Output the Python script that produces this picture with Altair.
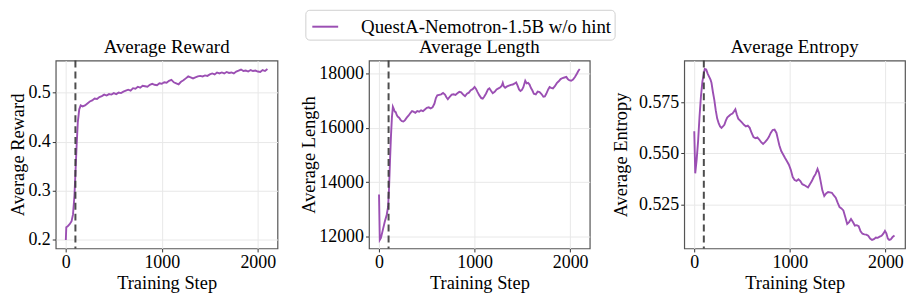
import altair as alt
import pandas as pd

SERIES = "QuestA-Nemotron-1.5B w/o hint"
COLOR = "#9b4fb3"

reward_steps = [0, 5, 20, 40, 60, 75, 90, 100, 112, 125, 140, 155, 175, 200, 225, 250, 275, 300, 325, 350,
                375, 400, 425, 450, 475, 500, 525, 550, 575, 600, 625, 650, 675, 700, 725, 750, 775, 800, 825, 850,
                875, 900, 925, 950, 975, 1000, 1025, 1050, 1075, 1100, 1125, 1150, 1175, 1200, 1225, 1250, 1275,
                1300, 1325, 1350, 1375, 1400, 1425, 1450, 1475, 1500, 1525, 1550, 1575, 1600, 1625, 1650, 1675,
                1700, 1725, 1750, 1775, 1800, 1825, 1850, 1875, 1900, 1925, 1950, 1975, 2000, 2025, 2050, 2075, 2100]
reward_vals = [0.200, 0.226, 0.228, 0.232, 0.238, 0.252, 0.290, 0.335, 0.390, 0.440, 0.466, 0.474, 0.472, 0.474,
               0.478, 0.482, 0.484, 0.488, 0.487, 0.491, 0.493, 0.496, 0.494, 0.497, 0.496, 0.499, 0.497, 0.500,
               0.499, 0.502, 0.504, 0.506, 0.504, 0.509, 0.508, 0.512, 0.510, 0.514, 0.513, 0.512, 0.516, 0.518,
               0.516, 0.515, 0.519, 0.518, 0.521, 0.520, 0.524, 0.526, 0.521, 0.519, 0.517, 0.522, 0.525, 0.529,
               0.533, 0.531, 0.529, 0.531, 0.533, 0.534, 0.533, 0.535, 0.534, 0.537, 0.539, 0.537, 0.541, 0.539,
               0.541, 0.539, 0.542, 0.540, 0.541, 0.539, 0.543, 0.545, 0.547, 0.544, 0.545, 0.543, 0.546, 0.544,
               0.545, 0.543, 0.542, 0.546, 0.544, 0.548]

length_steps = [0, 8, 20, 40, 60, 80, 95, 105, 115, 125, 135, 145, 155, 165, 175, 185, 195, 210, 225, 240, 255,
                270, 290, 310, 330, 345, 360, 380, 400, 420, 440, 460, 480, 500, 520, 540, 560, 580, 595, 610, 630,
                650, 670, 690, 705, 720, 740, 760, 780, 800, 820, 840, 860, 880, 900, 920, 940, 960, 980, 1000,
                1015, 1030, 1050, 1070, 1085, 1100, 1120, 1140, 1155, 1170, 1190, 1210, 1230, 1250, 1270, 1285,
                1295, 1305, 1320, 1340, 1360, 1380, 1400, 1420, 1435, 1450, 1465, 1480, 1495, 1510, 1520, 1530,
                1545, 1560, 1575, 1590, 1605, 1620, 1640, 1660, 1680, 1700, 1720, 1735, 1750, 1770, 1785, 1800,
                1820, 1840, 1860, 1880, 1900, 1920, 1940, 1960, 1975, 1990, 2010, 2030, 2050, 2070, 2085, 2100]
length_vals = [13550, 11880, 11950, 12250, 12550, 12800, 13100, 13800, 14800, 15700, 16400, 16780, 16700, 16600,
               16580, 16480, 16420, 16380, 16300, 16250, 16240, 16280, 16380, 16460, 16560, 16620, 16600, 16560,
               16620, 16600, 16650, 16620, 16680, 16740, 16760, 16720, 16760, 16900, 17100, 17200, 17220, 17240,
               17290, 17230, 17130, 17060, 17150, 17230, 17240, 17220, 17280, 17330, 17310, 17230, 17170, 17260,
               17300, 17390, 17430, 17510, 17440, 17330, 17200, 17100, 17080, 17150, 17270, 17420, 17460, 17380,
               17280, 17330, 17420, 17460, 17500, 17560, 17660, 17540, 17480, 17530, 17560, 17590, 17600, 17640,
               17680, 17560, 17420, 17360, 17400, 17500, 17620, 17740, 17640, 17660, 17600, 17470, 17380, 17260,
               17240, 17340, 17320, 17250, 17150, 17160, 17260, 17420, 17510, 17480, 17460, 17540, 17650, 17720,
               17800, 17840, 17860, 17880, 17800, 17760, 17740, 17780, 17880, 18000, 18100, 18170]

entropy_steps = [0, 10, 25, 40, 55, 70, 85, 100, 110, 125, 140, 155, 170, 180, 195, 210, 225, 240, 255, 270, 285,
                 300, 315, 330, 345, 360, 380, 400, 415, 430, 445, 460, 480, 500, 520, 540, 560, 580, 600, 620,
                 640, 660, 680, 700, 720, 740, 760, 780, 800, 820, 840, 860, 875, 890, 910, 930, 950, 970, 990,
                 1010, 1030, 1050, 1070, 1090, 1110, 1130, 1150, 1170, 1190, 1210, 1230, 1250, 1270, 1290, 1305,
                 1320, 1340, 1360, 1380, 1400, 1420, 1440, 1460, 1480, 1500, 1520, 1540, 1560, 1580, 1600, 1620,
                 1640, 1660, 1680, 1700, 1720, 1740, 1760, 1780, 1800, 1820, 1840, 1860, 1880, 1900, 1920, 1940,
                 1960, 1980, 1995, 2010, 2025, 2040, 2055, 2075, 2095]
entropy_vals = [0.5608, 0.5403, 0.5470, 0.5560, 0.5680, 0.5780, 0.5850, 0.5890, 0.5912, 0.5910, 0.5890, 0.5875,
                0.5860, 0.5845, 0.5800, 0.5760, 0.5710, 0.5670, 0.5648, 0.5632, 0.5625, 0.5632, 0.5640, 0.5660,
                0.5675, 0.5682, 0.5690, 0.5695, 0.5705, 0.5716, 0.5690, 0.5670, 0.5660, 0.5650, 0.5640, 0.5632,
                0.5636, 0.5625, 0.5600, 0.5580, 0.5574, 0.5578, 0.5568, 0.5555, 0.5546, 0.5555, 0.5566, 0.5580,
                0.5600, 0.5614, 0.5616, 0.5600, 0.5570, 0.5540, 0.5512, 0.5495, 0.5478, 0.5462, 0.5445, 0.5420,
                0.5385, 0.5370, 0.5366, 0.5374, 0.5365, 0.5350, 0.5346, 0.5340, 0.5334, 0.5350, 0.5365, 0.5385,
                0.5400, 0.5424, 0.5405, 0.5370, 0.5320, 0.5292, 0.5305, 0.5312, 0.5310, 0.5308, 0.5295, 0.5284,
                0.5260, 0.5238, 0.5232, 0.5222, 0.5190, 0.5156, 0.5165, 0.5180, 0.5165, 0.5148, 0.5150, 0.5145,
                0.5120, 0.5108, 0.5105, 0.5104, 0.5098, 0.5085, 0.5078, 0.5082, 0.5090, 0.5088, 0.5094, 0.5098,
                0.5110, 0.5122, 0.5110, 0.5085, 0.5078, 0.5080, 0.5092, 0.5099]

hint_step = [100]
x_ticks = [0, 1000, 2000]
reward_ticks = [0.2, 0.3, 0.4, 0.5]
length_ticks = [12000, 14000, 16000, 18000]
entropy_ticks = [0.525, 0.55, 0.575]

FONT = "Liberation Serif"


def padded(vals, frac=0.05):
    lo, hi = min(vals), max(vals)
    r = hi - lo
    return [lo - frac * r, hi + frac * r]


def axis(values, fmt, title_pad=0):
    return alt.Axis(values=values, format=fmt, labelFont=FONT, titleFont=FONT, labelFontSize=18,
                    titleFontSize=18.5, labelColor="black", titleColor="black", titlePadding=title_pad)


leg = alt.Legend(orient="none", legendX=251, legendY=-51, title=None, symbolType="stroke",
                 symbolSize=676, symbolStrokeWidth=2, symbolOffset=3, labelFontSize=19, labelOffset=22,
                 padding=3, strokeColor="#d0d0d0", cornerRadius=4, fillColor="white",
                 labelLimit=400, labelFont=FONT, labelColor="black")


def panel(steps, vals, title, ytitle, yticks, yfmt, width, ytitle_pad=0):
    df = pd.DataFrame({"step": steps, "value": vals, "series": [SERIES] * len(steps)})
    xs = alt.Scale(domain=[-105, 2205], nice=False, zero=False)
    line = alt.Chart(df).mark_line(strokeWidth=1.9).encode(
        x=alt.X("step:Q", scale=xs, title="Training Step", axis=axis(x_ticks, "d", 2)),
        y=alt.Y("value:Q", scale=alt.Scale(domain=padded(vals), nice=False, zero=False),
                title=ytitle, axis=axis(yticks, yfmt, ytitle_pad)),
        color=alt.Color("series:N", scale=alt.Scale(domain=[SERIES], range=[COLOR]), legend=leg),
    )
    rule = alt.Chart(pd.DataFrame({"x": hint_step})).mark_rule(
        color="#3a3a3a", strokeWidth=2, strokeDash=[7, 4], opacity=0.9
    ).encode(x=alt.X("x:Q", scale=xs))
    return alt.layer(line, rule).properties(
        width=width, height=189,
        title=alt.TitleParams(title, anchor="middle", offset=3, fontSize=19,
                              font=FONT, fontWeight="normal", color="black"),
    )


p1 = panel(reward_steps, reward_vals, "Average Reward", "Average Reward", reward_ticks, ".1f", 223)
p2 = panel(length_steps, length_vals, "Average Length", "Average Length", length_ticks, "d", 222)
p3 = panel(entropy_steps, entropy_vals, "Average Entropy", "Average Entropy", entropy_ticks, ".3f", 222, 8)

chart = alt.hconcat(p1, p2, p3, spacing=20).properties(padding=0).configure(font=FONT).configure_axis(
    gridColor="#e8e8e8", gridWidth=1, tickColor="#333", tickSize=3.5,
    domain=False, labelPadding=2, titleFontWeight="normal"
).configure_view(stroke="#555", strokeWidth=1.2)

chart.save("out.html", embed_options={"renderer": "svg", "actions": False})
